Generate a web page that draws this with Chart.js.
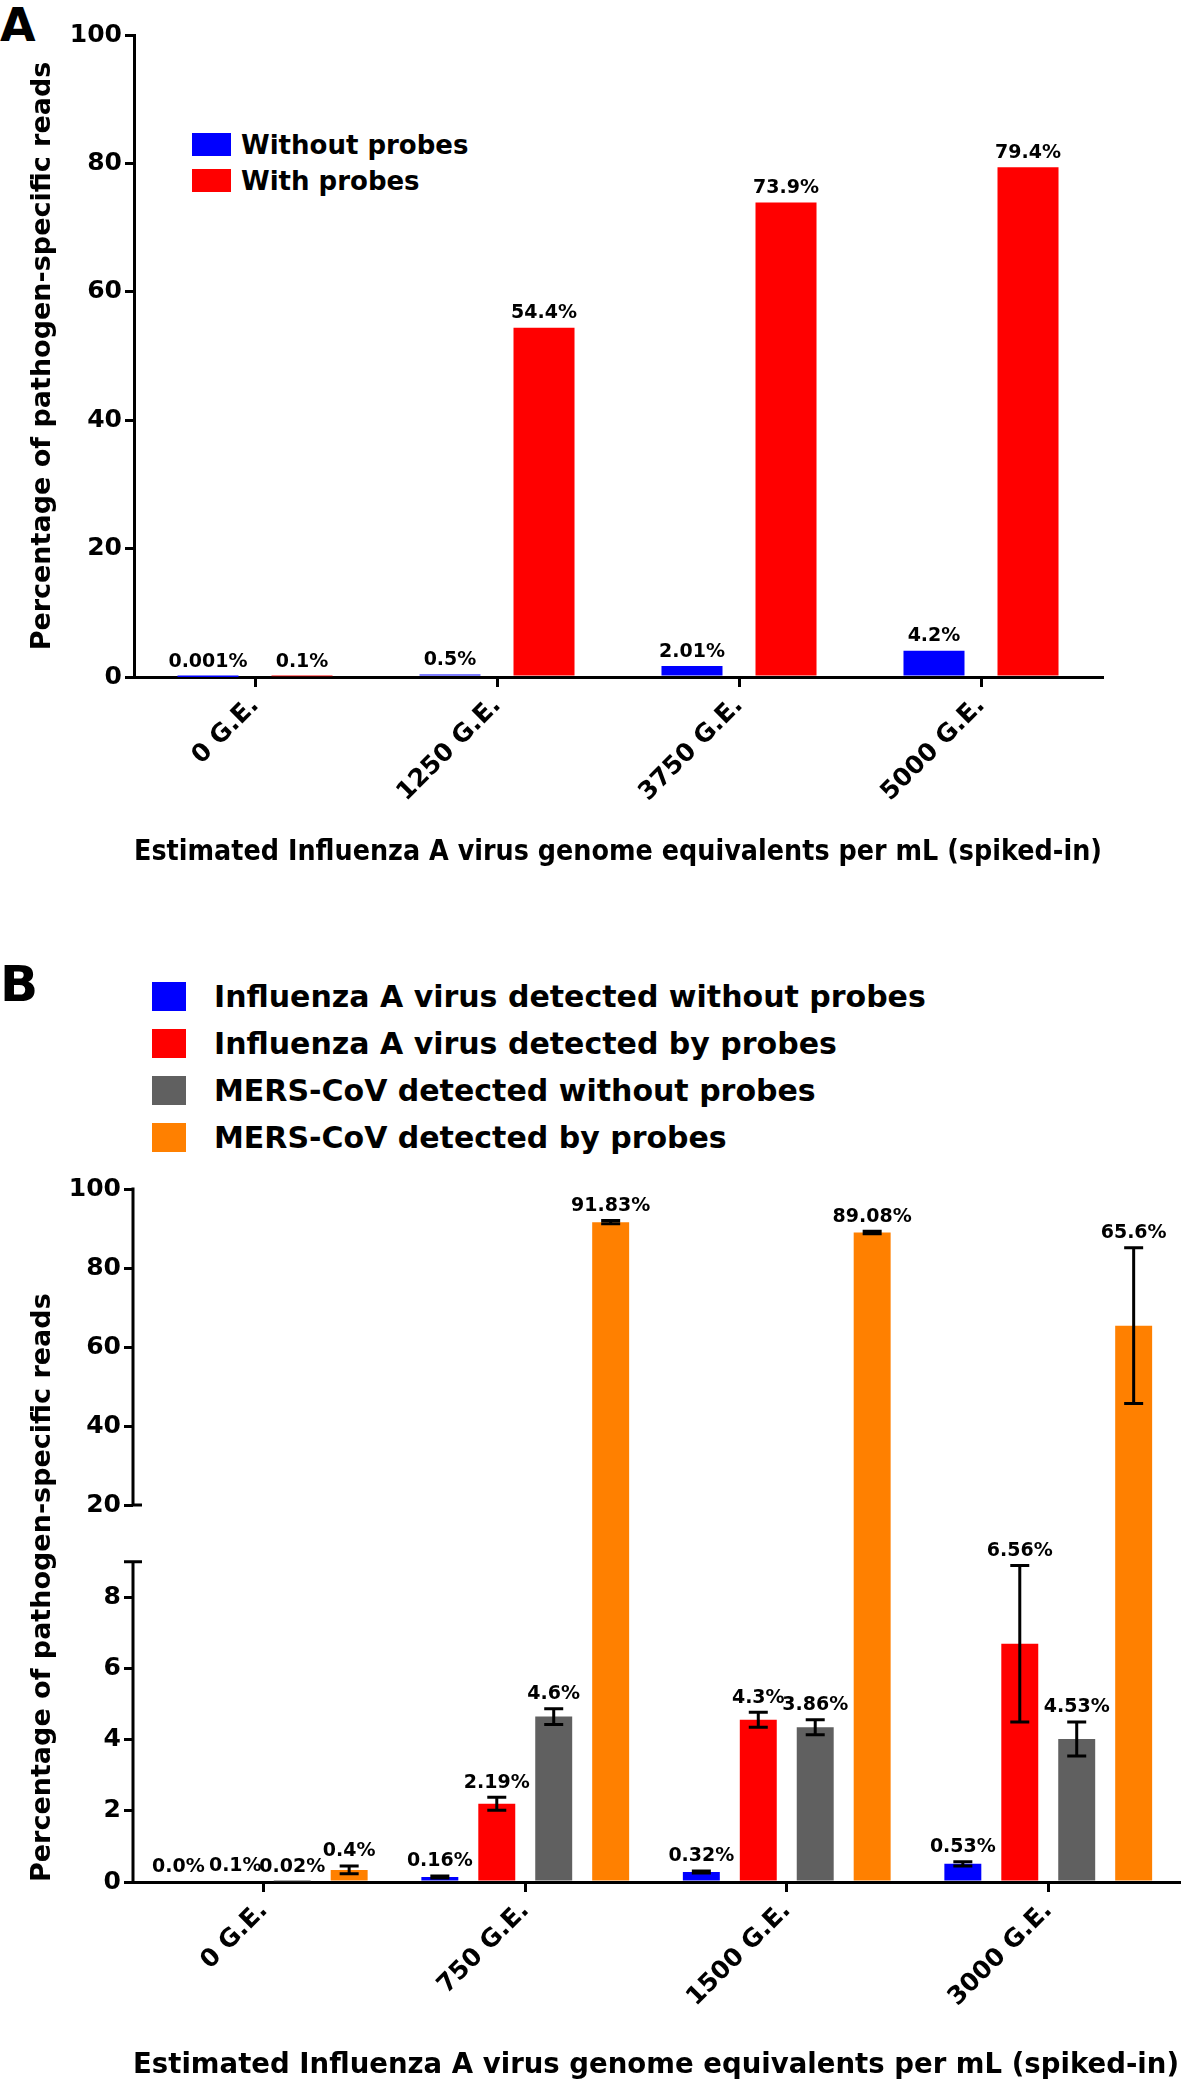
<!DOCTYPE html>
<html>
<head>
<meta charset="utf-8">
<script src="https://cdn.jsdelivr.net/npm/chart.js@4.4.0/dist/chart.umd.min.js"></script>
<style>
  body { margin: 0; background: #fff; width: 1181px; height: 2088px; position: relative; overflow: hidden;
         font-family: 'DejaVu Sans'; font-weight: bold; color: #000; }
  canvas { position: absolute; left: 0; }
  #chartA { top: 0; }
  #chartB { top: 880px; }
  .tag { position: absolute; left: 0; line-height: 1; }
  #tagA { top: 2px; font-size: 46px; }
  #tagB { top: 959px; font-size: 50px; }
  .legend { position: absolute; }
  .legend .row { display: flex; align-items: center; white-space: nowrap; }
  #legendA { left: 192px; top: 133px; font-size: 26px; }
  #legendA .row { height: 23px; margin-bottom: 13px; }
  #legendA .sw { width: 39px; height: 23px; margin-right: 10px; }
  #legendB { left: 152px; top: 982px; font-size: 30px; }
  #legendB .row { height: 29px; margin-bottom: 18px; }
  #legendB .sw { width: 34px; height: 29px; margin-right: 28px; }
</style>
</head>
<body>
<div class="tag" id="tagA">A</div>
<div class="tag" id="tagB">B</div>
<div class="legend" id="legendA"></div>
<div class="legend" id="legendB"></div>
<canvas id="chartA" width="1181" height="880"></canvas>
<canvas id="chartB" width="1181" height="1208"></canvas>
<script>
// ---- panel A data ----
var doseA = ['0 G.E.', '1250 G.E.', '3750 G.E.', '5000 G.E.'];
var seriesA = ['Without probes', 'With probes'];
var withoutProbesA = [0.001, 0.4, 1.7, 4.1];
var withProbesA = [0.1, 54.4, 73.9, 79.4];
var withoutProbesTextA = ['0.001%', '0.5%', '2.01%', '4.2%'];
var withProbesTextA = ['0.1%', '54.4%', '73.9%', '79.4%'];
var yTicksA = [0, 20, 40, 60, 80, 100];

// ---- panel B data ----
var doseB = ['0 G.E.', '750 G.E.', '1500 G.E.', '3000 G.E.'];
var seriesB = ['Influenza A virus detected without probes', 'Influenza A virus detected by probes',
               'MERS-CoV detected without probes', 'MERS-CoV detected by probes'];
var fluNoProbe = [0.0, 0.14, 0.28, 0.51];
var fluNoProbeErr = [0, 0.03, 0.03, 0.06];
var fluProbe = [0.04, 2.2, 4.56, 6.7];
var fluProbeErr = [0, 0.18, 0.21, 2.2];
var mersNoProbe = [0.02, 4.65, 4.35, 4.02];
var mersNoProbeErr = [0, 0.22, 0.21, 0.48];
var mersProbe = [0.34, 91.6, 89.0, 65.4];
var mersProbeErr = [0.11, 0.4, 0.3, 19.7];
var fluNoProbeText = ['0.0%', '0.16%', '0.32%', '0.53%'];
var fluProbeText = ['0.1%', '2.19%', '4.3%', '6.56%'];
var mersNoProbeText = ['0.02%', '4.6%', '3.86%', '4.53%'];
var mersProbeText = ['0.4%', '91.83%', '89.08%', '65.6%'];
var yTicksB = [0, 2, 4, 6, 8, 20, 40, 60, 80, 100];
var breakLow = 9, breakHigh = 20;

var xTitle = 'Estimated Influenza A virus genome equivalents per mL (spiked-in)';
var yTitle = 'Percentage of pathogen-specific reads';

var colorsA = ['#0000ff', '#ff0000'];
var colorsB = ['#0000ff', '#ff0000', '#606060', '#ff8000'];

Chart.defaults.font.family = 'DejaVu Sans';
Chart.defaults.color = '#000';

function buildLegend(id, names, colors) {
    var box = document.getElementById(id);
    names.forEach(function (name, i) {
        var row = document.createElement('div');
        row.className = 'row';
        var sw = document.createElement('span');
        sw.className = 'sw';
        sw.style.background = colors[i];
        var txt = document.createElement('span');
        txt.textContent = name;
        row.appendChild(sw);
        row.appendChild(txt);
        box.appendChild(row);
    });
}
buildLegend('legendA', seriesA, colorsA);
buildLegend('legendB', seriesB, colorsB);

// y scale with a gap between breakLow and breakHigh
function brokenDecimal(v) {
    if (v <= breakLow) return v / breakLow * 0.462;
    if (v <= breakHigh) return 0.462 + (v - breakLow) / (breakHigh - breakLow) * 0.082;
    return 0.544 + (v - breakHigh) / (100 - breakHigh) * 0.456;
}

var LinearScale = Chart.LinearScale || Chart.registry.getScale('linear');
class BrokenScale extends LinearScale {
    getPixelForValue(value) {
        if (value === null || isNaN(value)) return NaN;
        return this.getPixelForDecimal(brokenDecimal(value));
    }
    getValueForPixel(pixel) {
        var d = this.getDecimalForPixel(pixel);
        if (d <= 0.462) return d / 0.462 * breakLow;
        if (d <= 0.544) return breakLow + (d - 0.462) / 0.082 * (breakHigh - breakLow);
        return breakHigh + (d - 0.544) / 0.456 * (100 - breakHigh);
    }
}
BrokenScale.id = 'broken';
BrokenScale.defaults = LinearScale.defaults;
Chart.register(BrokenScale);

// value labels above bars (or above error bars)
var valueLabels = {
    id: 'valueLabels',
    afterDatasetsDraw: function (chart) {
        var ctx = chart.ctx, y = chart.scales.y;
        ctx.save();
        ctx.font = 'bold 19px "DejaVu Sans"';
        ctx.fillStyle = '#000';
        ctx.textAlign = 'center';
        ctx.textBaseline = 'bottom';
        chart.data.datasets.forEach(function (ds, i) {
            chart.getDatasetMeta(i).data.forEach(function (bar, j) {
                var top = bar.y;
                if (ds.errors && ds.errors[j] > 0) {
                    top = Math.min(top, y.getPixelForValue(ds.data[j] + ds.errors[j]));
                }
                ctx.fillText(ds.texts[j], bar.x, top - 5);
            });
        });
        ctx.restore();
    }
};

var errorBars = {
    id: 'errorBars',
    afterDatasetsDraw: function (chart) {
        var ctx = chart.ctx, y = chart.scales.y;
        ctx.save();
        ctx.strokeStyle = '#000';
        ctx.lineWidth = 3;
        chart.data.datasets.forEach(function (ds, i) {
            if (!ds.errors) return;
            chart.getDatasetMeta(i).data.forEach(function (bar, j) {
                var e = ds.errors[j];
                if (!e) return;
                var hi = y.getPixelForValue(ds.data[j] + e);
                var lo = y.getPixelForValue(Math.max(ds.data[j] - e, 0));
                ctx.beginPath();
                ctx.moveTo(bar.x, hi); ctx.lineTo(bar.x, lo);
                ctx.moveTo(bar.x - 9.5, hi); ctx.lineTo(bar.x + 9.5, hi);
                ctx.moveTo(bar.x - 9.5, lo); ctx.lineTo(bar.x + 9.5, lo);
                ctx.stroke();
            });
        });
        ctx.restore();
    }
};

var brokenAxis = {
    id: 'brokenAxis',
    afterDraw: function (chart) {
        var ctx = chart.ctx, y = chart.scales.y, x = chart.chartArea.left;
        var yLow = y.getPixelForValue(breakLow), yHigh = y.getPixelForValue(breakHigh);
        ctx.save();
        ctx.strokeStyle = '#000';
        ctx.lineWidth = 3;
        ctx.beginPath();
        ctx.moveTo(x, y.getPixelForValue(0) + 1.5); ctx.lineTo(x, yLow);
        ctx.moveTo(x - 9, yLow); ctx.lineTo(x + 9, yLow);
        ctx.moveTo(x, yHigh); ctx.lineTo(x, y.getPixelForValue(100) - 1.5);
        ctx.moveTo(x, yHigh); ctx.lineTo(x + 9, yHigh);
        ctx.stroke();
        ctx.restore();
    }
};

function xAxis(height, titleBottom) {
    return {
        offset: true,
        grid: { offset: false, drawOnChartArea: false, tickLength: 10, lineWidth: 3, color: '#000' },
        border: { display: true, width: 3, color: '#000' },
        ticks: { autoSkip: false, minRotation: 45, maxRotation: 45, padding: 4,
                 font: { size: 25, weight: 'bold' } },
        title: { display: true, text: xTitle, font: { size: 28.5, weight: 'bold' },
                 padding: { top: 0, bottom: titleBottom } },
        afterFit: function (s) { s.height = height; s.paddingLeft = 0; s.paddingRight = 0; }
    };
}

function yTitleOpts(align) {
    return { display: true, text: yTitle, align: align, font: { size: 27, weight: 'bold' },
             padding: { top: 27, bottom: 0 } };
}

// ---- panel A ----
new Chart(document.getElementById('chartA'), {
    type: 'bar',
    data: {
        labels: doseA,
        datasets: [
            { label: seriesA[0], data: withoutProbesA, texts: withoutProbesTextA, backgroundColor: colorsA[0] },
            { label: seriesA[1], data: withProbesA, texts: withProbesTextA, backgroundColor: colorsA[1] }
        ]
    },
    options: {
        responsive: false,
        animation: false,
        layout: { padding: { top: 35, right: 79, bottom: 0, left: 0 } },
        datasets: { bar: { categoryPercentage: 0.777, barPercentage: 0.649 } },
        plugins: { legend: { display: false }, tooltip: { enabled: false } },
        scales: {
            x: xAxis(203, 10),
            y: {
                min: 0, max: 100,
                afterBuildTicks: function (s) { s.ticks = yTicksA.map(function (v) { return { value: v }; }); },
                ticks: { padding: 3, autoSkip: false, font: { size: 25, weight: 'bold' } },
                grid: { drawOnChartArea: false, tickLength: 9, lineWidth: 3, color: '#000' },
                border: { display: true, width: 3, color: '#000' },
                title: yTitleOpts('center'),
                afterFit: function (s) { s.width = 134; }
            }
        }
    },
    plugins: [valueLabels]
});

// ---- panel B ----
new Chart(document.getElementById('chartB'), {
    type: 'bar',
    data: {
        labels: doseB,
        datasets: [
            { label: seriesB[0], data: fluNoProbe, errors: fluNoProbeErr, texts: fluNoProbeText, backgroundColor: colorsB[0] },
            { label: seriesB[1], data: fluProbe, errors: fluProbeErr, texts: fluProbeText, backgroundColor: colorsB[1] },
            { label: seriesB[2], data: mersNoProbe, errors: mersNoProbeErr, texts: mersNoProbeText, backgroundColor: colorsB[2] },
            { label: seriesB[3], data: mersProbe, errors: mersProbeErr, texts: mersProbeText, backgroundColor: colorsB[3] }
        ]
    },
    options: {
        responsive: false,
        animation: false,
        layout: { padding: { top: 309, right: 2, bottom: 0, left: 0 } },
        datasets: { bar: { categoryPercentage: 0.871, barPercentage: 0.649 } },
        plugins: { legend: { display: false }, tooltip: { enabled: false } },
        scales: {
            x: xAxis(206, 5),
            y: {
                type: 'broken',
                min: 0, max: 100,
                afterBuildTicks: function (s) { s.ticks = yTicksB.map(function (v) { return { value: v }; }); },
                ticks: { padding: 3, autoSkip: false, font: { size: 25, weight: 'bold' },
                         callback: function (v) { return String(v); } },
                grid: { drawOnChartArea: false, tickLength: 9, lineWidth: 3, color: '#000' },
                border: { display: false },
                title: yTitleOpts('start'),
                afterFit: function (s) { s.width = 133; }
            }
        }
    },
    plugins: [errorBars, valueLabels, brokenAxis]
});
</script>
</body>
</html>
